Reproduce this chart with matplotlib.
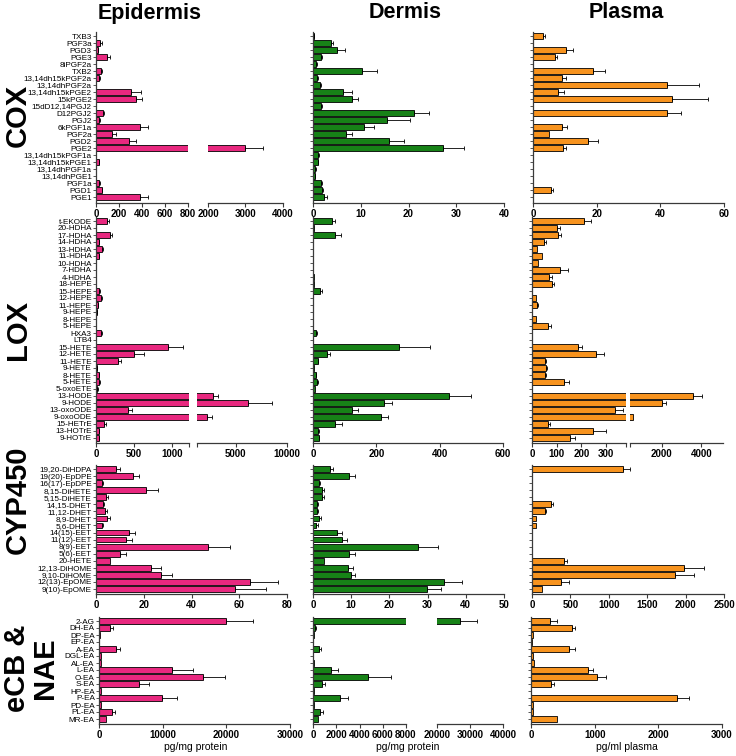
import matplotlib
matplotlib.use('Agg')
import matplotlib.pyplot as plt
import numpy as np

plt.rcParams['font.family'] = ['Liberation Sans', 'DejaVu Sans']

# ---------------- DATA ----------------
cox_cats = ["TXB3", "PGF3a", "PGD3", "PGE3", "8iPGF2a", "TXB2", "13,14dh15kPGF2a", "13,14dhPGF2a",
            "13,14dh15kPGE2", "15kPGE2", "15dD12,14PGJ2", "D12PGJ2", "PGJ2", "6kPGF1a", "PGF2a", "PGD2",
            "PGE2", "13,14dh15kPGF1a", "13,14dh15kPGE1", "13,14dhPGF1a", "13,14dhPGE1", "PGF1a", "PGD1", "PGE1"]
cox_epi = [2, 35, 14, 92, 3, 40, 29, 2, 303, 344, 3, 64, 29, 381, 136, 289, 2990, 2, 25, 1, 1, 29, 49, 381]
cox_epi_sem = [0, 14, 3, 29, 0, 8, 5, 0, 84, 57, 0, 6, 3, 69, 37, 63, 480, 0, 4, 0, 0, 4, 3, 67]
cox_derm = [0.2, 3.8, 5.0, 1.6, 0.7, 10.3, 0.9, 1.4, 6.3, 8.2, 1.6, 21.2, 15.6, 10.7, 6.9, 15.9, 27.3,
            1.0, 1.0, 0.5, 0.4, 1.7, 1.9, 2.3]
cox_derm_sem = [0.1, 0.4, 1.8, 0.2, 0.2, 3.0, 0.2, 0.2, 1.9, 1.2, 0.3, 3.1, 4.7, 2.1, 1.3, 3.1, 4.4,
                0.2, 0.15, 0.1, 0.1, 0.2, 0.1, 0.6]
cox_plas = [3.0, 0, 10.3, 6.8, 0, 18.7, 9.1, 42.2, 7.8, 43.8, 0, 42.0, 0, 9.1, 5.1, 17.2, 9.3,
            0, 0, 0, 0, 0, 5.6, 0]
cox_plas_sem = [0.7, 0, 2.2, 0.7, 0, 4.0, 1.4, 9.8, 1.8, 11.2, 0, 4.4, 0, 1.7, 0, 3.2, 1.2,
                0, 0, 0, 0, 0, 0.7, 0]

lox_cats = ["t-EKODE", "20-HDHA", "17-HDHA", "14-HDHA", "13-HDHA", "11-HDHA", "10-HDHA", "7-HDHA", "4-HDHA",
            "18-HEPE", "15-HEPE", "12-HEPE", "11-HEPE", "9-HEPE", "8-HEPE", "5-HEPE", "HXA3", "LTB4",
            "15-HETE", "12-HETE", "11-HETE", "9-HETE", "8-HETE", "5-HETE", "5-oxoETE", "13-HODE", "9-HODE",
            "13-oxoODE", "9-oxoODE", "15-HETrE", "13-HOTrE", "9-HOTrE"]
lox_epi = [150, 5, 184, 40, 75, 40, 2, 2, 2, 2, 44, 61, 22, 10, 2, 2, 66, 2,
           953, 505, 285, 13, 40, 44, 18, 2785, 6200, 417, 2200, 110, 35, 40]
lox_epi_sem = [22, 0, 31, 4, 22, 5, 0, 0, 0, 0, 5, 15, 4, 3, 0, 0, 10, 0,
               197, 127, 45, 3, 4, 5, 2, 490, 2340, 61, 490, 22, 3, 2]
lox_derm = [60, 3, 69, 1, 1, 1, 1, 1, 3, 2, 23, 1, 0.5, 1, 0.5, 0.5, 10, 0.5,
            272, 45, 15, 3, 10, 14, 5, 430, 225, 124, 214, 68, 16, 18]
lox_derm_sem = [9, 0, 18, 0, 0, 0, 0, 0, 0, 0, 6, 0, 0, 0, 0, 0, 2, 0,
                96, 8, 2, 0, 1, 1, 0, 70, 24, 17, 22, 24, 2, 1]
lox_plas = [210, 102, 106, 47, 20, 41, 24, 115, 68, 79, 0, 15, 22, 0, 18, 65, 0, 0,
            187, 259, 52, 56, 52, 130, 0, 3600, 2000, 335, 550, 64, 246, 153]
lox_plas_sem = [29, 11, 13, 9, 0, 0, 0, 32, 11, 11, 0, 0, 2, 0, 0, 10, 0, 0,
                14, 33, 4, 4, 4, 21, 0, 450, 200, 33, 0, 8, 52, 21]

cyp_cats = ["19,20-DiHDPA", "19(20)-EpDPE", "16(17)-EpDPE", "8,15-DiHETE", "5,15-DiHETE", "14,15-DHET",
            "11,12-DHET", "8,9-DHET", "5,6-DHET", "14(15)-EET", "11(12)-EET", "8(9)-EET", "5(6)-EET",
            "20-HETE", "12,13-DiHOME", "9,10-DiHOME", "12(13)-EpOME", "9(10)-EpOME"]
cyp_epi = [8.3, 15.7, 2.4, 20.8, 4.2, 2.8, 3.8, 4.5, 2.4, 13.8, 12.4, 47.1, 10.1, 5.9, 22.9, 27.1, 64.3, 58.3]
cyp_epi_sem = [1.8, 2.5, 0.4, 5.1, 0.7, 0.7, 1.0, 1.4, 0.7, 2.6, 2.8, 9.1, 2.5, 0, 4.2, 4.6, 11.8, 12.9]
cyp_derm = [4.5, 9.3, 1.5, 2.4, 2.4, 1.0, 1.0, 1.7, 0.8, 6.4, 7.5, 27.4, 9.5, 3.0, 9.1, 10.0, 34.4, 29.8]
cyp_derm_sem = [0.7, 1.6, 0.3, 0.6, 0.4, 0.2, 0.3, 0.4, 0.5, 1.2, 1.4, 5.4, 1.4, 0, 1.3, 1.1, 4.7, 3.7]
cyp_plas = [1189, 0, 0, 0, 0, 253, 174, 57, 57, 0, 0, 0, 0, 418, 1973, 1864, 383, 131]
cyp_plas_sem = [87, 0, 0, 0, 0, 21, 13, 0, 0, 0, 0, 0, 0, 44, 261, 248, 100, 0]

ecb_cats = ["2-AG", "DH-EA", "DP-EA", "EP-EA", "A-EA", "DGL-EA", "AL-EA", "L-EA", "O-EA", "S-EA",
            "HP-EA", "P-EA", "PD-EA", "PL-EA", "MR-EA"]
ecb_epi = [19930, 1730, 210, 50, 2730, 260, 310, 11490, 16260, 6290, 370, 9970, 310, 2100, 1150]
ecb_epi_sem = [4200, 470, 0, 0, 630, 0, 0, 3300, 3510, 1580, 0, 2300, 0, 370, 0]
ecb_derm = [27000, 200, 60, 30, 490, 30, 110, 1540, 4740, 770, 90, 2340, 90, 630, 430]
ecb_derm_sem = [5200, 90, 0, 0, 200, 0, 0, 600, 1970, 230, 0, 660, 0, 200, 0]
ecb_plas = [298, 638, 37, 21, 596, 26, 52, 899, 1040, 308, 0, 2294, 37, 37, 413]
ecb_plas_sem = [104, 52, 0, 0, 94, 0, 0, 78, 131, 58, 0, 188, 0, 0, 0]

col_titles = ["Epidermis", "Dermis", "Plasma"]
row_titles = ["COX", "LOX", "CYP450", "eCB &\nNAE"]
x_labels = ["pg/mg protein", "pg/mg protein", "pg/ml plasma"]

PINK = "#e8287f"
GREEN = "#178217"
ORANGE = "#f7931e"

# ---------------- LAYOUT ----------------
W, H = 736, 756
fig = plt.figure(figsize=(W / 100, H / 100), dpi=100)

ROWS = {  # top category centre, bottom category centre, x-axis line (px)
    "cox": (36, 197, 203),
    "lox": (221, 438, 443),
    "cyp": (469, 589, 594),
    "ecb": (621, 719, 724),
}
SPINE = "#3a3a3a"


def draw(x0, x1, row, cats, vals, sems, color, xlim, ticks, show_ylab, left=True, blank_ticks=()):
    top, bot, axis = ROWS[row]
    n = len(cats)
    sp = (bot - top) / (n - 1)
    ax = fig.add_axes([x0 / W, 1 - axis / H, (x1 - x0) / W, (axis - (top - 4)) / H])
    y = np.arange(n)
    vals = np.asarray(vals, float)
    sems = np.asarray(sems, float)
    ax.barh(y, vals, height=0.82, color=color, edgecolor="black", linewidth=0.6, zorder=2)
    m = sems > 0
    ax.errorbar(vals[m], y[m], xerr=[np.zeros(m.sum()), sems[m]], fmt="none", ecolor="black",
                elinewidth=0.6, capsize=1.4, capthick=0.6, zorder=3)
    ax.set_ylim(n - 1 + (axis - bot) / sp, -4 / sp)
    ax.set_xlim(*xlim)
    for s in ("top", "right"):
        ax.spines[s].set_visible(False)
    ax.spines["bottom"].set_color(SPINE)
    ax.spines["bottom"].set_linewidth(0.9)
    ax.spines["left"].set_color(SPINE)
    ax.spines["left"].set_linewidth(0.9)
    ax.set_yticks(y)
    if show_ylab:
        ax.set_yticklabels(cats, fontsize=5.9)
    else:
        ax.set_yticklabels([])
    ax.tick_params(axis="y", length=2.2, width=0.6, pad=0.8, color=SPINE)
    if not left:
        ax.spines["left"].set_visible(False)
        ax.tick_params(axis="y", left=False, labelleft=False)
    allt = list(ticks) + list(blank_ticks)
    ax.set_xticks(allt)
    labs = [f"{t:g}" for t in ticks] + [""] * len(blank_ticks)
    ax.set_xticklabels(labs, fontsize=7, fontweight="bold")
    ax.tick_params(axis="x", length=3, width=0.8, pad=1.5, color=SPINE)
    ax.set_facecolor("none")
    return ax


# COX
draw(96, 188, "cox", cox_cats, cox_epi, cox_epi_sem, PINK, (0, 800), [0, 200, 400, 600, 800], True)
draw(208, 283, "cox", cox_cats, cox_epi, cox_epi_sem, PINK, (2000, 4000), [2000, 3000, 4000], False, left=False)
draw(313, 504, "cox", cox_cats, cox_derm, cox_derm_sem, GREEN, (0, 40), [0, 10, 20, 30, 40], False)
draw(533, 724, "cox", cox_cats, cox_plas, cox_plas_sem, ORANGE, (0, 60), [0, 20, 40, 60], False)

# LOX
draw(96, 189, "lox", lox_cats, lox_epi, lox_epi_sem, PINK, (0, 1225), [0, 500, 1000], True, blank_ticks=[1225])
draw(197, 287, "lox", lox_cats, lox_epi, lox_epi_sem, PINK, (1225, 10000), [5000, 10000], False, left=False,
     blank_ticks=[1225])
draw(313, 503, "lox", lox_cats, lox_derm, lox_derm_sem, GREEN, (0, 600), [0, 200, 400, 600], False)
draw(532, 626, "lox", lox_cats, lox_plas, lox_plas_sem, ORANGE, (0, 380), [0, 100, 200, 300], False,
     blank_ticks=[380])
draw(630, 723, "lox", lox_cats, lox_plas, lox_plas_sem, ORANGE, (417, 5083), [2000, 4000], False, left=False,
     blank_ticks=[417])

# CYP450
draw(96, 287, "cyp", cyp_cats, cyp_epi, cyp_epi_sem, PINK, (0, 80), [0, 20, 40, 60, 80], True)
draw(313, 504, "cyp", cyp_cats, cyp_derm, cyp_derm_sem, GREEN, (0, 50), [0, 10, 20, 30, 40, 50], False)
draw(532, 724, "cyp", cyp_cats, cyp_plas, cyp_plas_sem, ORANGE, (0, 2500), [0, 500, 1000, 1500, 2000, 2500], False)

# eCB & NAE
draw(99, 290, "ecb", ecb_cats, ecb_epi, ecb_epi_sem, PINK, (0, 30000), [0, 10000, 20000, 30000], True)
draw(313, 406, "ecb", ecb_cats, ecb_derm, ecb_derm_sem, GREEN, (0, 8000), [0, 2000, 4000, 6000, 8000], False)
draw(437, 503, "ecb", ecb_cats, ecb_derm, ecb_derm_sem, GREEN, (20000, 40000), [20000, 30000, 40000], False,
     left=False)
draw(531, 722, "ecb", ecb_cats, ecb_plas, ecb_plas_sem, ORANGE, (0, 3000), [0, 1000, 2000, 3000], False)

# Titles
for t, xc in zip(col_titles, [150, 405, 626]):
    fig.text(xc / W, 1 - 13 / H, t, fontsize=15.5, fontweight="bold", ha="center", va="center")
for t, yc in zip(row_titles, [115, 330, 500, 668]):
    xc = 18 if "\n" not in t else 31
    fig.text(xc / W, 1 - yc / H, t, fontsize=21, fontweight="bold", ha="center", va="center",
             rotation=90, linespacing=1.0, multialignment="center")
for t, xc in zip(x_labels, [196, 408, 627]):
    fig.text(xc / W, 1 - 747 / H, t, fontsize=7.5, ha="center", va="center")

fig.savefig("out.png", dpi=100)
